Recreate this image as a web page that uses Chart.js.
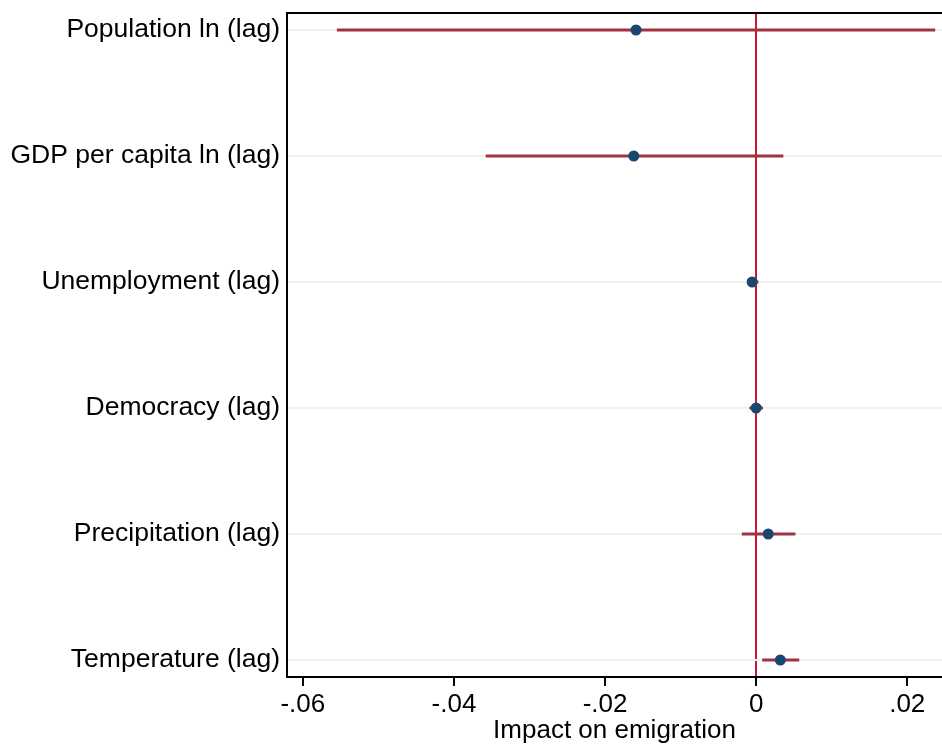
<!DOCTYPE html>
<html>
<head>
<meta charset="utf-8">
<script src="https://cdn.jsdelivr.net/npm/chart.js@4.4.1/dist/chart.umd.min.js"></script>
<style>
html,body{margin:0;padding:0;background:#fff;}
#wrap{width:942px;height:744px;}
</style>
</head>
<body>
<div id="wrap"><canvas id="c" width="942" height="744"></canvas></div>
<script>
const categories = ["Population ln (lag)", "GDP per capita ln (lag)", "Unemployment (lag)", "Democracy (lag)", "Precipitation (lag)", "Temperature (lag)"];
const estimates = [-0.0159, -0.0162, -0.00053, 0.0000, 0.0016, 0.0032];
const ciLower = [-0.0555, -0.0358, -0.0012, -0.0009, -0.0019, 0.0008];
const ciUpper = [0.0237, 0.0036, 0.0003, 0.0009, 0.0052, 0.0057];
const xTicks = [-0.06, -0.04, -0.02, 0, 0.02];
const xTitle = "Impact on emigration";

const FONT = "'Liberation Sans', Arial, Helvetica, sans-serif";
const FS = 26;
const rows = categories.map((_, i) => i + 1);

const datasets = [{
  type: 'scatter',
  label: 'Estimate',
  data: estimates.map((v, i) => ({x: v, y: rows[i]})),
  backgroundColor: '#1a476f',
  borderColor: '#1a476f',
  pointRadius: 5.5,
  pointBorderWidth: 0,
  order: 0
}];
categories.forEach((c, i) => {
  datasets.push({
    type: 'line',
    label: c + ' CI',
    data: [{x: ciLower[i], y: rows[i]}, {x: ciUpper[i], y: rows[i]}],
    borderColor: '#a0333f',
    borderWidth: 3,
    pointRadius: 0,
    fill: false,
    order: 1
  });
});

function fmt(v) {
  if (Math.abs(v) < 1e-9) return "0";
  let s = (Math.round(v * 100) / 100).toString();
  return s.replace(/^(-?)0\./, "$1.");
}

const frame = {
  id: 'frame',
  afterDraw(chart) {
    const a = chart.chartArea, ctx = chart.ctx;
    ctx.save();
    ctx.strokeStyle = '#000';
    ctx.lineWidth = 2;
    ctx.beginPath();
    ctx.moveTo(a.left - 1, a.top);
    ctx.lineTo(a.right + 2, a.top);
    ctx.stroke();
    ctx.restore();
  }
};

new Chart(document.getElementById('c'), {
  data: {datasets},
  plugins: [frame],
  options: {
    responsive: false,
    animation: false,
    devicePixelRatio: 1,
    layout: {autoPadding: false, padding: {top: 13, right: 0, left: 0, bottom: 0}},
    plugins: {legend: {display: false}, tooltip: {enabled: false}},
    scales: {
      x: {
        type: 'linear',
        min: -0.0621,
        max: 0.0246,
        afterBuildTicks(scale) { scale.ticks = xTicks.map(v => ({value: v})); },
        afterFit(scale) { scale.height = 67; scale.paddingLeft = 0; scale.paddingRight = 0; },
        ticks: {
          color: '#000',
          font: {family: FONT, size: FS},
          padding: 3,
          callback: (v) => fmt(v),
          maxRotation: 0
        },
        grid: {
          drawOnChartArea: true,
          color: (ctx) => (ctx.tick && Math.abs(ctx.tick.value) < 1e-9) ? '#d2143a' : 'rgba(0,0,0,0)',
          lineWidth: 2,
          tickColor: '#000',
          tickLength: 9,
          tickWidth: 2
        },
        border: {display: true, color: '#000', width: 2},
        title: {
          display: true,
          text: xTitle,
          color: '#000',
          font: {family: FONT, size: FS, lineHeight: 1},
          padding: {top: 0, bottom: 0}
        }
      },
      y: {
        type: 'linear',
        reverse: true,
        min: 0.865,
        max: 6.135,
        afterBuildTicks(scale) { scale.ticks = rows.map(v => ({value: v})); },
        afterFit(scale) { scale.width = 287; scale.paddingTop = 0; scale.paddingBottom = 0; },
        ticks: {
          color: '#000',
          font: {family: FONT, size: 26.5},
          padding: 7,
          callback: (v) => categories[Math.round(v) - 1] || ''
        },
        grid: {
          drawTicks: false,
          color: '#eaf2f3',
          lineWidth: 2
        },
        border: {display: true, color: '#000', width: 2}
      }
    }
  }
});
</script>
</body>
</html>
